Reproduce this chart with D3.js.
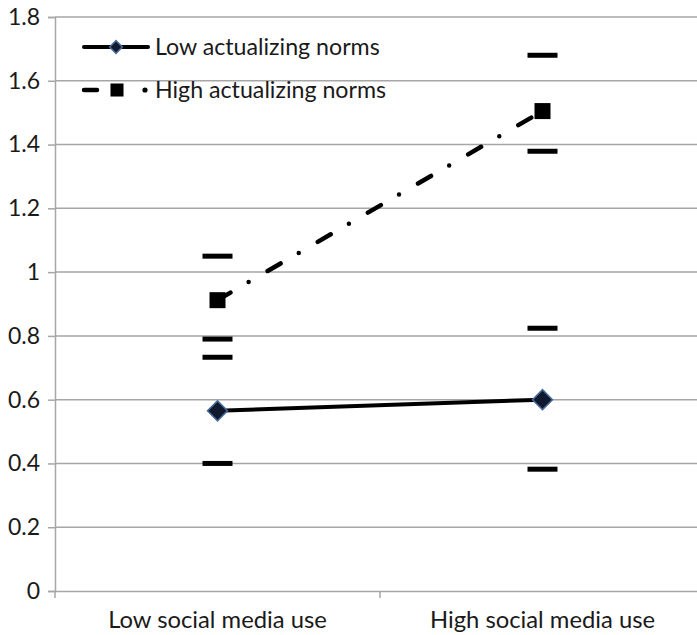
<!DOCTYPE html>
<html>
<head>
<meta charset="utf-8">
<script src="https://cdn.jsdelivr.net/npm/d3@7"></script>
<style>
  body { margin: 0; background: #fff; }
  text { font-family: Lato, "Open Sans", sans-serif; fill: #1a1a1a; }
</style>
</head>
<body>
<svg id="chart" width="697" height="635"></svg>
<script>
// categories and series
const categories = ['Low social media use', 'High social media use'];
const lowNorms = [0.565, 0.60];
const highNorms = [0.912, 1.505];
// short horizontal dash markers (CI bounds) per category
const lowNormsBounds = [[0.40, 0.733], [0.382, 0.824]];
const highNormsBounds = [[0.790, 1.050], [1.379, 1.680]];
const yTicks = [0, 0.2, 0.4, 0.6, 0.8, 1, 1.2, 1.4, 1.6, 1.8];
const seriesNames = ['Low actualizing norms', 'High actualizing norms'];

const svg = d3.select('#chart');
const plotLeft = 55, plotRight = 705, plotTop = 17, plotBottom = 591;

const x = d3.scaleBand().domain(categories).range([plotLeft, plotRight]).padding(0);
const y = d3.scaleLinear().domain([0, 1.8]).range([plotBottom, plotTop]);
const cx = (d) => x(d) + x.bandwidth() / 2;

// gridlines
svg.append('g')
  .selectAll('line')
  .data(yTicks.filter((d) => d > 0))
  .enter()
  .append('line')
  .attr('x1', plotLeft).attr('x2', plotRight)
  .attr('y1', (d) => y(d)).attr('y2', (d) => y(d))
  .attr('stroke', '#a6a6a6').attr('stroke-width', 1.5);

// y axis
const yAxis = svg.append('g')
  .attr('transform', `translate(${plotLeft},0)`)
  .call(d3.axisLeft(y).tickValues(yTicks).tickSize(7).tickPadding(8)
    .tickFormat((d) => String(+d.toFixed(1))));
yAxis.selectAll('line').attr('stroke', '#a6a6a6').attr('stroke-width', 1.5);
yAxis.select('.domain').attr('stroke', '#a6a6a6').attr('stroke-width', 1.5);
yAxis.selectAll('text').attr('font-size', 23).attr('font-family', 'Lato').attr('fill', '#1a1a1a');

// x axis
const xAxis = svg.append('g')
  .attr('transform', `translate(0,${plotBottom})`)
  .call(d3.axisBottom(x).tickSize(0).tickPadding(20));
xAxis.select('.domain').attr('stroke', '#a6a6a6').attr('stroke-width', 1.5);
xAxis.selectAll('text').attr('font-size', 23.8).attr('font-family', 'Lato').attr('fill', '#1a1a1a');
// category boundary ticks
xAxis.selectAll('.bound')
  .data([plotLeft, plotLeft + x.bandwidth(), plotRight])
  .enter()
  .append('line')
  .attr('x1', (d) => d).attr('x2', (d) => d)
  .attr('y1', 0).attr('y2', 7)
  .attr('stroke', '#a6a6a6').attr('stroke-width', 1.5);

const line = d3.line().x((d, i) => cx(categories[i])).y((d) => y(d));

// series lines
svg.append('path')
  .datum(lowNorms)
  .attr('d', line)
  .attr('fill', 'none')
  .attr('stroke', '#000')
  .attr('stroke-width', 4);

svg.append('path')
  .datum(highNorms)
  .attr('d', line)
  .attr('fill', 'none')
  .attr('stroke', '#000')
  .attr('stroke-width', 4.5)
  .attr('stroke-linecap', 'round')
  .attr('stroke-dasharray', '15,21,0,22');

// bound dashes
const bounds = [];
categories.forEach((c, i) => {
  lowNormsBounds[i].forEach((v) => bounds.push({ c, v }));
  highNormsBounds[i].forEach((v) => bounds.push({ c, v }));
});
svg.append('g')
  .selectAll('line')
  .data(bounds)
  .enter()
  .append('line')
  .attr('x1', (d) => cx(d.c) - 15).attr('x2', (d) => cx(d.c) + 15)
  .attr('y1', (d) => y(d.v)).attr('y2', (d) => y(d.v))
  .attr('stroke', '#000').attr('stroke-width', 5);

const diamond = d3.symbol().type(d3.symbolSquare);
const square = d3.symbol().type(d3.symbolSquare);

// markers
svg.append('g')
  .selectAll('path')
  .data(lowNorms)
  .enter()
  .append('path')
  .attr('d', diamond.size(200)())
  .attr('transform', (d, i) => `translate(${cx(categories[i])},${y(d)}) rotate(45)`)
  .attr('fill', '#0f1a2e')
  .attr('stroke', '#4a6a9a')
  .attr('stroke-width', 1.5);

svg.append('g')
  .selectAll('path')
  .data(highNorms)
  .enter()
  .append('path')
  .attr('d', square.size(256)())
  .attr('transform', (d, i) => `translate(${cx(categories[i])},${y(d)})`)
  .attr('fill', '#000');

// legend
const legend = svg.append('g');
const rows = [47, 90];
legend.append('line')
  .attr('x1', 84).attr('x2', 148).attr('y1', rows[0]).attr('y2', rows[0])
  .attr('stroke', '#000').attr('stroke-width', 4).attr('stroke-linecap', 'round');
legend.append('path')
  .attr('d', diamond.size(80)())
  .attr('transform', `translate(116,${rows[0]}) rotate(45)`)
  .attr('fill', '#0f1a2e').attr('stroke', '#4a6a9a').attr('stroke-width', 1.5);

legend.append('line')
  .attr('x1', 84).attr('x2', 97).attr('y1', rows[1]).attr('y2', rows[1])
  .attr('stroke', '#000').attr('stroke-width', 4.5).attr('stroke-linecap', 'round');
legend.append('circle')
  .attr('cx', 145).attr('cy', rows[1]).attr('r', 2.6).attr('fill', '#000');
legend.append('path')
  .attr('d', square.size(170)())
  .attr('transform', `translate(117,${rows[1]})`)
  .attr('fill', '#000');

legend.selectAll('text')
  .data(seriesNames)
  .enter()
  .append('text')
  .attr('x', 155)
  .attr('y', (d, i) => rows[i])
  .attr('dy', '0.35em')
  .attr('font-size', 23.2)
  .text((d) => d);
</script>
</body>
</html>
